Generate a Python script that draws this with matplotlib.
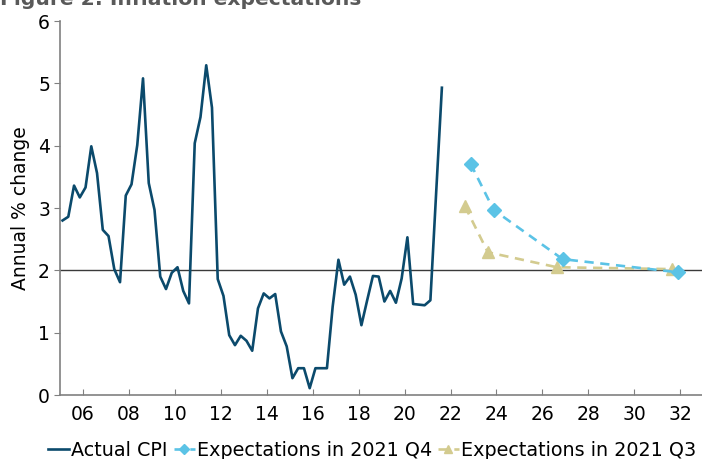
import numpy as np
import matplotlib
matplotlib.use('Agg')
import matplotlib.pyplot as plt

# DATA
cpi_start = 2005.125
cpi_values = [2.80, 2.86, 3.36, 3.17, 3.33, 3.99, 3.56, 2.65, 2.55, 2.02,
              1.81, 3.20, 3.38, 4.01, 5.08, 3.40, 2.97, 1.90, 1.70, 1.96,
              2.05, 1.67, 1.47, 4.04, 4.46, 5.29, 4.61, 1.86, 1.59, 0.96,
              0.80, 0.95, 0.87, 0.71, 1.39, 1.63, 1.55, 1.62, 1.02, 0.78,
              0.27, 0.43, 0.43, 0.11, 0.43, 0.43, 0.43, 1.42, 2.17, 1.77,
              1.90, 1.61, 1.12, 1.52, 1.91, 1.90, 1.50, 1.67, 1.48, 1.87,
              2.53, 1.46, 1.45, 1.44, 1.52, 3.24, 4.93]
exp_q4_years = [2022.875, 2023.875, 2026.875, 2031.875]
exp_q4_values = [3.71, 2.97, 2.18, 1.97]
exp_q3_years = [2022.625, 2023.625, 2026.625, 2031.625]
exp_q3_values = [3.03, 2.29, 2.05, 2.02]
tick_years = list(range(2006, 2033, 2))
tick_labels = ['%02d' % (y % 100) for y in tick_years]

cpi_years = cpi_start + 0.25 * np.arange(len(cpi_values))

plt.rcParams['font.family'] = ['DejaVu Sans']

fig = plt.figure(figsize=(7.02, 4.59), dpi=100)
ax = fig.add_axes([0.085, 0.1394, 0.917, 0.8148])

ax.axhline(2, color='#3a3a3a', lw=1.0, zorder=1)
ax.plot(cpi_years, cpi_values, color='#0b4a6c', lw=1.9, label='Actual CPI', zorder=3)
ax.plot(exp_q4_years, exp_q4_values, color='#5bc3e6', lw=1.9, ls=(0, (3.5, 2.5)),
        marker='D', ms=7, label='Expectations in 2021 Q4', zorder=4)
ax.plot(exp_q3_years, exp_q3_values, color='#d3cb8f', lw=1.9, ls=(0, (3.5, 2.5)),
        marker='^', ms=8.5, label='Expectations in 2021 Q3', zorder=3)

ax.set_xlim(2005, 2033)
ax.set_ylim(0, 6)
ax.set_xticks(tick_years)
ax.set_xticklabels(tick_labels)
ax.set_yticks(range(0, 7))
ax.tick_params(axis='x', direction='in', length=4, color='#808080', labelsize=13.5, pad=7)
ax.tick_params(axis='y', direction='out', length=4, color='#808080', labelsize=13.5, pad=3)
for s in ['top', 'right']:
    ax.spines[s].set_visible(False)
for s in ['left', 'bottom']:
    ax.spines[s].set_color('#808080')
    ax.spines[s].set_linewidth(1.2)
ax.set_ylabel('Annual % change', fontsize=13.5, labelpad=6)

# title sits mostly above the picture, as in the cropped reference
fig.text(0.0, 0.9895, 'Figure 2: Inflation expectations', fontsize=14.6, fontweight='bold',
         color='#595959', va='baseline', ha='left')

fig.legend(loc='lower center', bbox_to_anchor=(0.53, -0.04), ncol=3, frameon=False,
           fontsize=13.8, handlelength=1.1, handletextpad=0.1, columnspacing=0.3,
           markerscale=0.7)

fig.savefig('out.png', dpi=100)
